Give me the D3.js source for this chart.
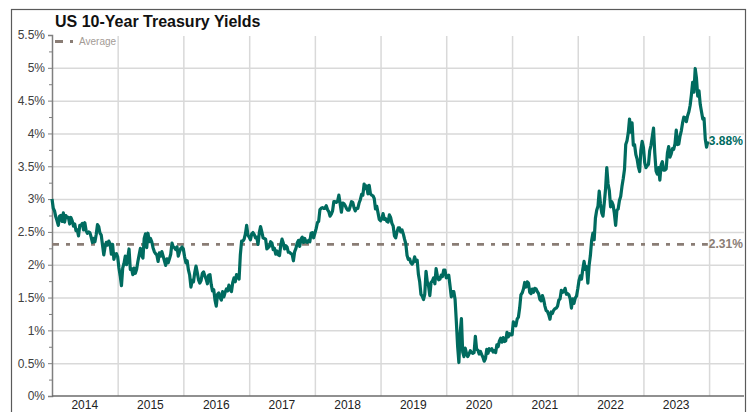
<!DOCTYPE html>
<html>
<head>
<meta charset="utf-8">
<script src="https://cdn.jsdelivr.net/npm/d3@7"></script>
<style>
  body { margin: 0; background: #fff; }
  text { font-family: Arial, "Liberation Sans", sans-serif; }
</style>
</head>
<body>
<div id="chart"></div>
<script>
// US 10-year treasury yield, weekly closes (%)
const years = [2014, 2015, 2016, 2017, 2018, 2019, 2020, 2021, 2022, 2023];

const y2014 = [3.00, 2.86, 2.82, 2.73, 2.67, 2.60, 2.74, 2.75, 2.66, 2.79, 2.65, 2.75, 2.72,
  2.72, 2.62, 2.72, 2.67, 2.59, 2.62, 2.52, 2.53, 2.44, 2.60, 2.60, 2.63, 2.53,
  2.64, 2.52, 2.48, 2.50, 2.49, 2.42, 2.34, 2.40, 2.35, 2.46, 2.61, 2.58, 2.48,
  2.45, 2.30, 2.15, 2.27, 2.34, 2.30, 2.36, 2.32, 2.16, 2.31, 2.08, 2.16, 2.17];
const y2015 = [2.12, 1.95, 1.83, 1.68, 1.95, 2.02, 2.13, 2.00, 2.11, 2.24, 1.93, 1.94,
  1.85, 1.95, 1.87, 1.93, 2.05, 2.15, 2.25, 2.14, 2.10, 2.40, 2.47, 2.26, 2.48, 2.35,
  2.40, 2.35, 2.26, 2.20, 2.17, 2.15, 2.05, 2.18, 2.13, 2.20, 2.13, 2.06,
  1.99, 2.09, 2.03, 2.09, 2.16, 2.33, 2.27, 2.26, 2.23, 2.27, 2.13, 2.20, 2.25, 2.27];
const y2016 = [2.24, 2.12, 2.03, 2.06, 1.92, 1.84, 1.66, 1.76, 1.74, 1.88, 1.98, 1.88, 1.77,
  1.72, 1.76, 1.87, 1.89, 1.83, 1.78, 1.71, 1.84, 1.85, 1.70, 1.60, 1.62, 1.46,
  1.37, 1.55, 1.57, 1.50, 1.46, 1.59, 1.51, 1.58, 1.63, 1.60, 1.69, 1.62, 1.59,
  1.73, 1.80, 1.74, 1.85, 1.82, 1.78, 2.15, 2.36, 2.36, 2.39, 2.47, 2.60, 2.45];
const y2017 = [2.42, 2.38, 2.47, 2.49, 2.46, 2.41, 2.42, 2.31, 2.49, 2.58, 2.50, 2.41, 2.40,
  2.39, 2.24, 2.26, 2.28, 2.35, 2.33, 2.23, 2.25, 2.16, 2.21, 2.15, 2.14, 2.30,
  2.39, 2.33, 2.24, 2.29, 2.27, 2.19, 2.19, 2.17, 2.16, 2.06, 2.20, 2.25, 2.33,
  2.37, 2.28, 2.39, 2.42, 2.34, 2.40, 2.35, 2.34, 2.37, 2.35, 2.48, 2.49, 2.41];
const y2018 = [2.48, 2.55, 2.64, 2.66, 2.84, 2.86, 2.87, 2.86, 2.86, 2.90, 2.84, 2.81, 2.74,
  2.77, 2.82, 2.96, 2.96, 2.95, 2.97, 3.06, 2.93, 2.80, 2.94, 2.93, 2.90, 2.86,
  2.83, 2.83, 2.89, 2.96, 2.95, 2.87, 2.82, 2.86, 2.86, 2.94, 2.99, 3.07, 3.06,
  3.23, 3.16, 3.20, 3.08, 3.21, 3.08, 3.06, 3.05, 3.01, 2.85, 2.89, 2.79, 2.69];
const y2019 = [2.67, 2.70, 2.78, 2.69, 2.70, 2.66, 2.65, 2.76, 2.72, 2.63, 2.59, 2.44, 2.41,
  2.50, 2.56, 2.56, 2.50, 2.53, 2.47, 2.39, 2.32, 2.14, 2.08, 2.09, 2.03, 2.01,
  2.04, 2.12, 2.05, 2.07, 1.85, 1.74, 1.55, 1.52, 1.47, 1.55, 1.90, 1.74, 1.68,
  1.53, 1.73, 1.75, 1.80, 1.71, 1.94, 1.83, 1.77, 1.78, 1.84, 1.82, 1.92, 1.92];
const y2020 = [1.80, 1.82, 1.84, 1.68, 1.51, 1.59, 1.59, 1.47, 1.13, 0.76, 0.51, 0.96, 1.18, 0.67,
  0.60, 0.73, 0.65, 0.60, 0.64, 0.69, 0.66, 0.65, 0.66, 0.91, 0.71, 0.70, 0.64,
  0.68, 0.63, 0.59, 0.53, 0.57, 0.71, 0.65, 0.72, 0.70, 0.72, 0.67, 0.69, 0.66,
  0.78, 0.75, 0.84, 0.88, 0.82, 0.89, 0.83, 0.84, 0.97, 0.90, 0.95, 0.93];
const y2021 = [0.93, 1.13, 1.08, 1.07, 1.17, 1.20, 1.34, 1.54, 1.57, 1.63, 1.73, 1.66, 1.74,
  1.72, 1.58, 1.56, 1.63, 1.58, 1.64, 1.63, 1.59, 1.56, 1.47, 1.45, 1.53, 1.47,
  1.37, 1.30, 1.29, 1.24, 1.17, 1.28, 1.26, 1.31, 1.33, 1.34, 1.37, 1.46, 1.48,
  1.61, 1.58, 1.59, 1.64, 1.55, 1.56, 1.54, 1.48, 1.34, 1.48, 1.41, 1.49, 1.52];
const y2022 = [1.63, 1.76, 1.83, 1.78, 1.93, 2.05, 1.93, 1.97, 1.72, 1.99, 2.14, 2.37, 2.48,
  2.38, 2.71, 2.83, 2.89, 3.12, 2.93, 2.79, 2.74, 2.94, 3.15, 3.48, 3.23, 3.13,
  2.88, 2.96, 2.91, 2.78, 2.60, 2.83, 2.85, 2.98, 3.04, 3.19, 3.31, 3.45, 3.83,
  3.89, 4.01, 4.22, 4.02, 4.16, 3.82, 3.83, 3.68, 3.61, 3.49, 3.42, 3.75, 3.88];
const y2023 = [3.79, 3.56, 3.48, 3.51, 3.53, 3.74, 3.82, 3.95, 4.08, 3.70, 3.43, 3.38, 3.48,
  3.29, 3.52, 3.57, 3.44, 3.44, 3.46, 3.70, 3.80, 3.64, 3.69, 3.77, 3.76, 3.84,
  4.05, 3.83, 3.84, 3.96, 4.04, 4.16, 4.25, 4.24, 4.18, 4.27, 4.33, 4.43, 4.59,
  4.78, 4.63, 4.99, 4.84, 4.57, 4.65, 4.44, 4.33, 4.22, 4.23, 3.91, 3.79, 3.88];

const yearly = [y2014, y2015, y2016, y2017, y2018, y2019, y2020, y2021, y2022, y2023];
const averageValue = 2.31;
const yTicks = [0, 0.5, 1, 1.5, 2, 2.5, 3, 3.5, 4, 4.5, 5, 5.5];
const yMinor = [0.25, 0.75, 1.25, 1.75, 2.25, 2.75, 3.25, 3.75, 4.25, 4.75, 5.25];

const width = 752;
const height = 412;
const margin = {left: 52, right: 8, top: 35, bottom: 16};

const teal = "#006b5f";
const avgColor = "#8a7d75";

// spread each year's weekly values evenly over that year
var data = [];
years.forEach(function (yr, k) {
  var t0 = Date.UTC(yr, 0, 1), t1 = Date.UTC(yr + 1, 0, 1);
  var vals = yearly[k];
  vals.forEach(function (v, i) {
    data.push({date: new Date(t0 + (t1 - t0) * i / vals.length), value: v});
  });
});

var svg = d3.select("#chart")
            .append("svg")
            .attr("width", width)
            .attr("height", height)
            .style("background-color", "#FFFFFF");

const xScale = d3.scaleUtc()
                 .domain([new Date(Date.UTC(2014, 0, 1)), new Date(Date.UTC(2024, 6, 13))])
                 .range([margin.left, width - margin.right]);
const yScale = d3.scaleLinear()
                 .domain([0, 5.5])
                 .range([height - margin.bottom, margin.top]);

//frame
svg.append("rect")
   .attr("x", 11.5).attr("y", 9.5)
   .attr("width", 734).attr("height", 430)
   .attr("fill", "none")
   .attr("stroke", "#5a5a5a")
   .attr("stroke-width", 1.2);

//title
svg.append("text")
   .attr("x", 55).attr("y", 26.5)
   .attr("font-size", "16px")
   .attr("font-weight", "bold")
   .attr("fill", "#111")
   .text("US 10-Year Treasury Yields");

//grid
const gridY = d3.axisLeft(yScale)
                .tickValues(yTicks.filter(d => d > 0 && d < 5.5))
                .tickSize(-(width - margin.right - margin.left))
                .tickFormat("");
svg.append("g")
   .attr("transform", "translate(" + margin.left + ",0)")
   .call(gridY)
   .call(g => g.select(".domain").remove())
   .call(g => g.selectAll("line").attr("stroke", "#d9d9d9").attr("stroke-width", 1.5));

const gridX = d3.axisBottom(xScale)
                .tickValues(d3.range(2015, 2025).map(y => new Date(Date.UTC(y, 0, 1))))
                .tickSize(-(height - margin.bottom - margin.top - 1))
                .tickFormat("");
svg.append("g")
   .attr("transform", "translate(0," + (height - margin.bottom) + ")")
   .call(gridX)
   .call(g => g.select(".domain").remove())
   .call(g => g.selectAll("line").attr("stroke", "#d9d9d9").attr("stroke-width", 1.5));

//y axis
const yAxis = d3.axisLeft(yScale)
                .tickValues(yTicks)
                .tickSize(4)
                .tickPadding(3)
                .tickFormat(d => d + "%");
svg.append("g")
   .attr("transform", "translate(" + margin.left + ",0)")
   .call(yAxis)
   .call(g => g.select(".domain").attr("stroke", "#7f7f7f").attr("stroke-width", 1.5))
   .call(g => g.selectAll("line").attr("stroke", "#7f7f7f"))
   .call(g => g.selectAll("text")
               .attr("font-size", "12px")
               .attr("font-family", "Arial, 'Liberation Sans', sans-serif")
               .attr("fill", "#404040"));

svg.append("g")
   .attr("transform", "translate(" + margin.left + ",0)")
   .call(d3.axisLeft(yScale).tickValues(yMinor).tickSize(3).tickFormat(""))
   .call(g => g.select(".domain").remove())
   .call(g => g.selectAll("line").attr("stroke", "#7f7f7f"));

//x axis
svg.append("line")
   .attr("x1", margin.left).attr("x2", width - margin.right)
   .attr("y1", yScale(0)).attr("y2", yScale(0))
   .attr("stroke", "#6b6b6b")
   .attr("stroke-width", 1.5);

svg.append("g")
   .selectAll("text")
   .data(years)
   .enter()
   .append("text")
   .attr("x", d => xScale(new Date(Date.UTC(d, 6, 2))))
   .attr("y", 409)
   .attr("text-anchor", "middle")
   .attr("font-size", "12px")
   .attr("fill", "#222")
   .text(d => d);

//average line
const first = data[0], last = data[data.length - 1];
svg.append("line")
   .attr("x1", xScale(first.date)).attr("x2", xScale(last.date))
   .attr("y1", yScale(averageValue)).attr("y2", yScale(averageValue))
   .attr("stroke", avgColor)
   .attr("stroke-width", 2.8)
   .attr("stroke-dasharray", "7,7,4,7");

//yield line
const line = d3.line()
               .x(d => xScale(d.date))
               .y(d => yScale(d.value));
svg.append("path")
   .datum(data)
   .attr("d", line)
   .attr("fill", "none")
   .attr("stroke", teal)
   .attr("stroke-width", 3.2)
   .attr("stroke-linejoin", "round");

//end labels
svg.append("text")
   .attr("x", xScale(last.date) + 1)
   .attr("y", yScale(last.value) + 4)
   .attr("font-size", "12px")
   .attr("font-weight", "bold")
   .attr("fill", teal)
   .text(d3.format(".2f")(last.value) + "%");
svg.append("text")
   .attr("x", xScale(last.date) + 1)
   .attr("y", yScale(averageValue) + 4)
   .attr("font-size", "12px")
   .attr("font-weight", "bold")
   .attr("fill", avgColor)
   .text(d3.format(".2f")(averageValue) + "%");

//legend
svg.append("line")
   .attr("x1", 55).attr("x2", 73)
   .attr("y1", 41.5).attr("y2", 41.5)
   .attr("stroke", avgColor)
   .attr("stroke-width", 2.8)
   .attr("stroke-dasharray", "8,7,3,7");
svg.append("text")
   .attr("x", 79).attr("y", 44.5)
   .attr("font-size", "10px")
   .attr("fill", "#a39b95")
   .text("Average");
</script>
</body>
</html>
